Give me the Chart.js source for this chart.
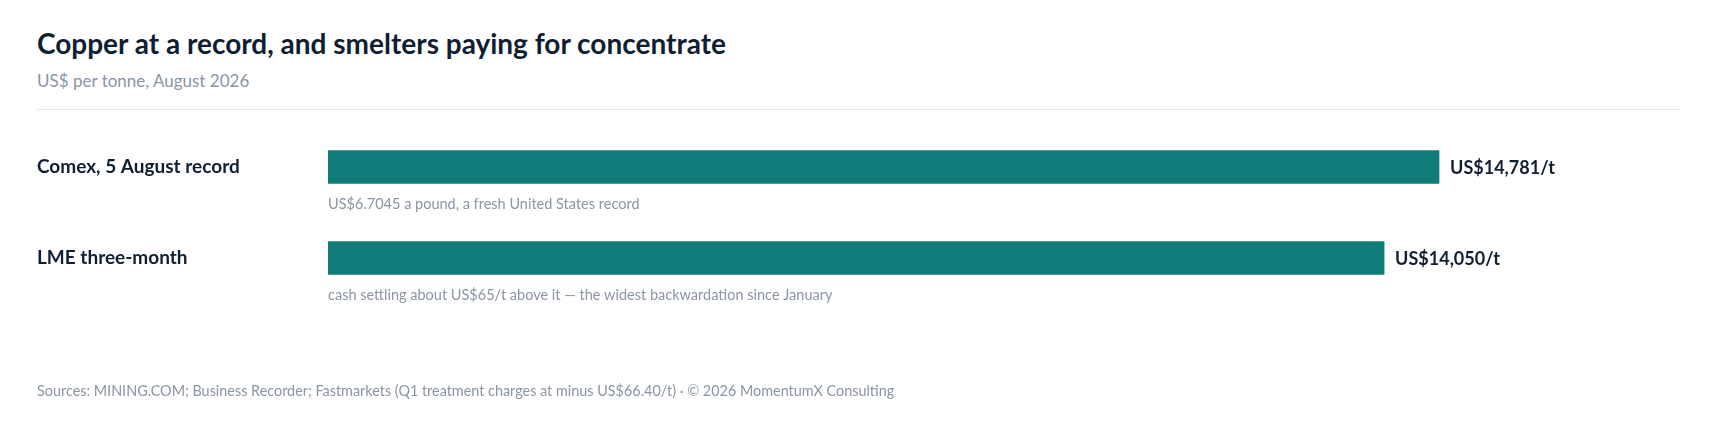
<!DOCTYPE html>
<html>
<head>
<meta charset="utf-8">
<script src="https://cdn.jsdelivr.net/npm/chart.js@4.4.1/dist/chart.umd.min.js"></script>
<style>
  html, body { margin: 0; padding: 0; background: #ffffff; }
  body { width: 1719px; height: 435px; position: relative; overflow: hidden; font-family: Lato, "Noto Sans", sans-serif; }
  #title { position: absolute; left: 37px; top: 26px; font-size: 28px; font-weight: 700; color: #0f1e33; white-space: nowrap; line-height: 34px; }
  #subtitle { position: absolute; left: 37px; top: 70px; font-size: 17px; color: #8b95a3; white-space: nowrap; line-height: 22px; }
  #rule { position: absolute; left: 37px; top: 109px; width: 1644px; height: 0; border-top: 1.5px solid #e3e6ea; }
  #footer { position: absolute; left: 37px; top: 382px; font-size: 14.4px; color: #8b95a3; white-space: nowrap; line-height: 18px; }
  #wrap { position: absolute; left: 0; top: 0; width: 1719px; height: 435px; }
</style>
</head>
<body>
<div id="title">Copper at a record, and smelters paying for concentrate</div>
<div id="subtitle">US$ per tonne, August 2026</div>
<div id="rule"></div>
<div id="wrap"><canvas id="c"></canvas></div>
<div id="footer">Sources: MINING.COM; Business Recorder; Fastmarkets (Q1 treatment charges at minus US$66.40/t) · © 2026 MomentumX Consulting</div>
<script>
const categories = ["Comex, 5 August record", "LME three-month"];
const pricesUsdPerTonne = [14781, 14050];
const notes = [
  "US$6.7045 a pound, a fresh United States record",
  "cash settling about US$65/t above it \u2014 the widest backwardation since January"
];
const axisMax = 18000;

const DARK = "#0f1e33";
const GREY = "#8b95a3";
const TEAL = "#107d7b";

const fmt = v => "US$" + v.toLocaleString("en-US") + "/t";

const annotatePlugin = {
  id: "annotate",
  afterDatasetsDraw(chart) {
    const ctx = chart.ctx;
    const meta = chart.getDatasetMeta(0);
    const area = chart.chartArea;
    ctx.save();
    meta.data.forEach((bar, i) => {
      ctx.textBaseline = "middle";
      ctx.textAlign = "left";
      ctx.fillStyle = DARK;
      ctx.font = "700 18px Lato, 'Noto Sans', sans-serif";
      ctx.fillText(fmt(pricesUsdPerTonne[i]), bar.x + 11, bar.y + 1);
      ctx.fillStyle = GREY;
      ctx.font = "400 14.5px Lato, 'Noto Sans', sans-serif";
      ctx.fillText(notes[i], area.left, bar.y + 37);
    });
    ctx.restore();
  }
};

new Chart(document.getElementById("c"), {
  type: "bar",
  data: {
    labels: categories,
    datasets: [{
      data: pricesUsdPerTonne,
      backgroundColor: TEAL,
      borderWidth: 0,
      barThickness: 33
    }]
  },
  options: {
    indexAxis: "y",
    responsive: true,
    maintainAspectRatio: false,
    animation: false,
    events: [],
    layout: { padding: { left: 37, right: 38, top: 121.5, bottom: 131.5 } },
    plugins: { legend: { display: false }, tooltip: { enabled: false } },
    scales: {
      x: { display: false, min: 0, max: axisMax },
      y: {
        grid: { display: false, drawBorder: false },
        border: { display: false },
        ticks: {
          crossAlign: "far",
          padding: 0,
          color: DARK,
          font: { family: "Lato, 'Noto Sans', sans-serif", size: 19, weight: "700" }
        },
        afterFit(scale) { scale.width = 291; }
      }
    }
  },
  plugins: [annotatePlugin]
});
</script>
</body>
</html>
